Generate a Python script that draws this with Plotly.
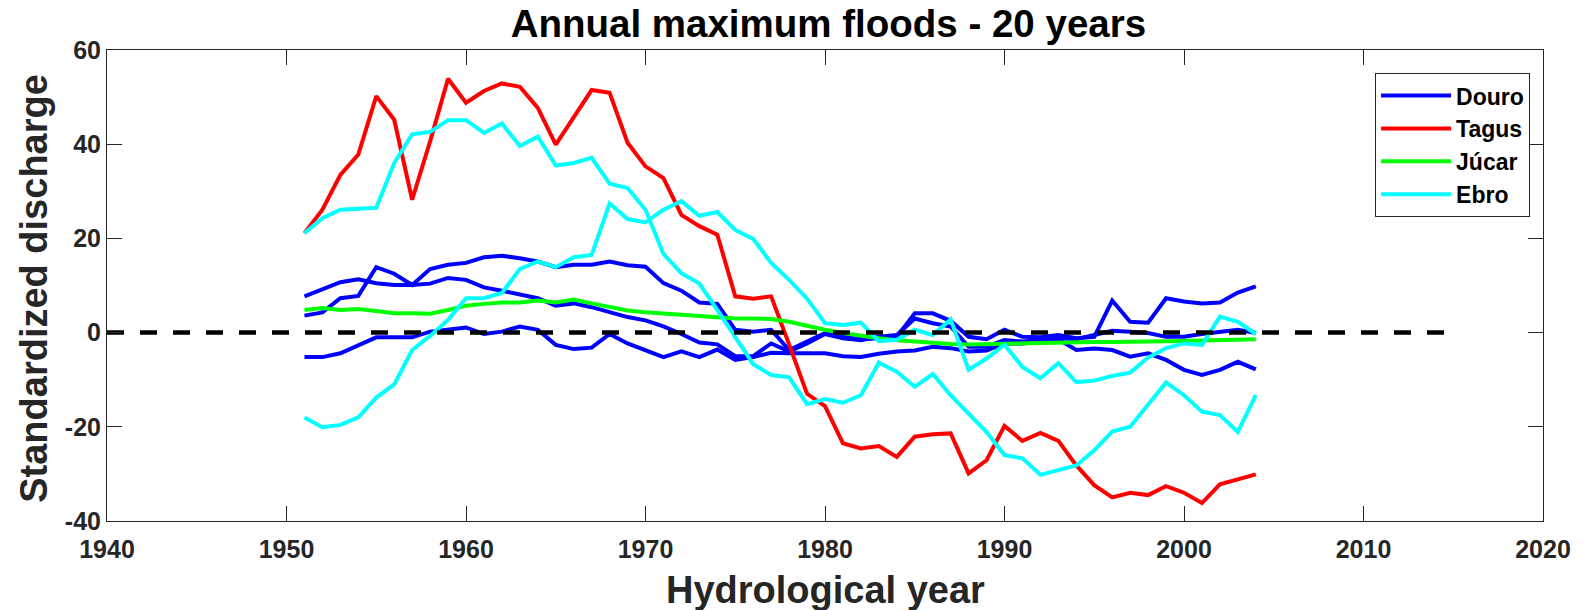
import plotly.graph_objects as go

years = list(range(1951, 2005))

douro_1 = [3.6, 4.3, 7.3, 7.8, 13.9, 12.5, 10.1, 13.5, 14.4, 14.8,
           16.0, 16.3, 15.8, 15.1, 13.9, 14.4, 14.4, 15.1, 14.3, 14.0,
           10.5, 8.9, 6.4, 6.1, 0.6, 0.2, 0.6, -3.7, -1.9, -0.1,
           -0.9, -1.4, -1.2, -0.9, 4.1, 4.1, 2.5, -0.9, -1.4, 0.6,
           -0.9, -1.0, -0.5, -1.2, -0.9, 6.8, 2.3, 2.1, 7.3, 6.6,
           6.2, 6.4, 8.5, 9.8]
douro_2 = [7.7, 9.1, 10.7, 11.3, 10.5, 10.1, 10.1, 10.4, 11.6, 11.2,
           9.6, 8.9, 8.0, 7.3, 5.7, 6.2, 5.4, 4.3, 3.3, 2.6,
           1.3, -0.3, -2.1, -2.5, -5.0, -5.0, -2.3, -4.0, -2.3, -0.3,
           -1.2, -1.6, -0.9, -0.5, 3.0, 2.0, 1.3, -3.0, -3.0, -1.6,
           -1.9, -1.6, -1.2, -1.4, -0.5, 0.4, 0.2, -0.1, -0.9, -0.9,
           -0.3, 0.2, 0.6, -0.1]
douro_3 = [-5.2, -5.2, -4.4, -2.6, -1.0, -1.0, -1.0, 0.2, 0.7, 1.1,
           -0.3, 0.2, 1.3, 0.6, -2.6, -3.5, -3.2, -0.3, -2.3, -3.7,
           -5.2, -4.0, -5.2, -3.6, -5.8, -5.2, -4.3, -4.4, -4.3, -4.4,
           -5.0, -5.2, -4.5, -4.0, -3.8, -3.0, -3.3, -4.0, -3.8, -2.3,
           -2.3, -1.8, -1.4, -3.7, -3.4, -3.7, -5.1, -4.4, -5.8, -7.9,
           -9.0, -7.9, -6.2, -7.8]
tagus = [21.1, 26.1, 33.5, 37.8, 50.2, 45.2, 28.2, 40.6, 53.9, 48.8,
         51.3, 52.9, 52.2, 47.7, 39.9, 45.6, 51.5, 50.9, 40.3, 35.3,
         32.8, 25.0, 22.6, 20.8, 7.7, 7.2, 7.7, -2.5, -13.0, -15.6,
         -23.5, -24.6, -24.1, -26.4, -22.1, -21.6, -21.4, -29.9, -27.1, -19.8,
         -23.0, -21.3, -23.0, -28.2, -32.4, -35.0, -34.0, -34.5, -32.6, -34.0,
         -36.2, -32.2, -31.2, -30.1]
jucar = [4.8, 5.2, 4.8, 5.0, 4.6, 4.1, 4.1, 4.0, 4.8, 5.7,
         6.1, 6.4, 6.4, 6.8, 6.4, 7.0, 6.2, 5.5, 4.7, 4.3,
         4.0, 3.7, 3.5, 3.3, 3.0, 3.0, 2.9, 2.3, 1.4, 0.6,
         -0.1, -0.7, -1.2, -1.6, -1.9, -2.1, -2.4, -2.5, -2.4, -2.3,
         -2.2, -2.2, -2.1, -2.1, -2.0, -2.0, -2.0, -1.9, -1.9, -1.8,
         -1.7, -1.6, -1.5, -1.4]
ebro_1 = [21.1, 24.3, 26.1, 26.3, 26.5, 36.0, 42.1, 42.6, 45.1, 45.1,
          42.4, 44.4, 39.6, 41.6, 35.5, 36.0, 37.1, 31.6, 30.7, 26.1,
          16.7, 12.6, 10.4, 4.8, -1.0, -6.7, -9.0, -9.5, -15.2, -14.1,
          -14.9, -13.3, -6.4, -8.3, -11.5, -8.8, -13.3, -17.2, -21.1, -26.0,
          -26.7, -30.2, -29.2, -28.2, -25.0, -21.0, -20.0, -15.4, -10.6, -13.3,
          -16.8, -17.5, -21.1, -13.3]
ebro_2 = [-18.0, -20.1, -19.6, -18.0, -13.8, -11.0, -3.7, -0.7, 2.7, 7.3,
          7.3, 8.4, 13.5, 15.1, 13.9, 16.0, 16.5, 27.4, 24.1, 23.4,
          26.1, 27.9, 24.8, 25.6, 21.8, 19.9, 14.8, 11.2, 7.2, 2.0,
          1.6, 2.1, -1.8, -1.5, 0.6, -0.5, 2.8, -7.9, -5.5, -2.6,
          -7.3, -9.7, -6.5, -10.5, -10.2, -9.2, -8.5, -5.3, -3.3, -2.3,
          -2.6, 3.4, 2.3, -0.3]

ref_x = [1940, 2015]
ref_y = [0, 0]

x_ticks = [1940, 1950, 1960, 1970, 1980, 1990, 2000, 2010, 2020]
y_ticks = [-40, -20, 0, 20, 40, 60]
y_tick_text = ["-40", "-20", "0", "20", "40", "60"]

FONT = "Liberation Sans, Arial, sans-serif"
AX = "#262626"

series = [
    ("Douro", "#0000FF", [douro_1, douro_2, douro_3]),
    ("Tagus", "#FF0000", [tagus]),
    ("Júcar", "#00FF00", [jucar]),
    ("Ebro", "#00FFFF", [ebro_1, ebro_2]),
]

fig = go.Figure()
for name, color, lines in series:
    for i, ys in enumerate(lines):
        fig.add_trace(go.Scatter(
            x=years, y=ys, mode="lines", name=name, legendgroup=name,
            showlegend=(i == 0), line=dict(color=color, width=4)))

fig.add_trace(go.Scatter(x=ref_x, y=ref_y, mode="lines", showlegend=False,
                         line=dict(color="black", width=4.5, dash="17px,16px")))

axis_common = dict(showline=True, linecolor=AX, linewidth=1, mirror="ticks",
                   ticks="inside", ticklen=15, tickcolor=AX, tickwidth=1,
                   showgrid=False, zeroline=False,
                   tickfont=dict(family=FONT, size=25, color=AX, weight="bold"))

fig.update_xaxes(range=[1940, 2020], tickvals=x_ticks, ticklabelstandoff=6,
                 **axis_common)
fig.update_yaxes(range=[-40, 60], tickvals=y_ticks, ticktext=y_tick_text,
                 **axis_common)

fig.update_layout(
    width=1583, height=610,
    plot_bgcolor="white", paper_bgcolor="white",
    margin=dict(l=107, r=36, t=50, b=89),
    title=dict(text="Annual maximum floods - 20 years", x=0.5233, xanchor="center",
               y=0.962, yanchor="middle", yref="container",
               font=dict(family=FONT, size=38.5, color="black", weight="bold")),
    legend=dict(x=0.991, xanchor="right", y=0.951, yanchor="top",
                bordercolor=AX, borderwidth=1, bgcolor="white",
                font=dict(family=FONT, size=23, color="black", weight="bold"),
                tracegroupgap=0, itemwidth=70),
    annotations=[
        dict(text="Standardized discharge", xref="paper", yref="paper",
             x=-0.0505, y=0.494, xanchor="center", yanchor="middle",
             textangle=-90, showarrow=False,
             font=dict(family=FONT, size=38, color=AX, weight="bold")),
        dict(text="Hydrological year", xref="paper", yref="paper",
             x=0.5, y=-0.147, xanchor="center", yanchor="middle",
             showarrow=False,
             font=dict(family=FONT, size=38, color=AX, weight="bold")),
    ],
)

fig.write_html("out.html")
